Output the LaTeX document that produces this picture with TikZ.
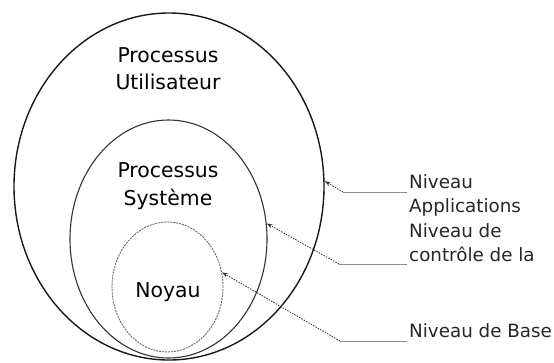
\documentclass[tikz,border=0pt]{standalone}
\usepackage{fontspec}
\setmainfont{DejaVu Sans}
\usetikzlibrary{shapes.geometric,arrows.meta}
\tikzset{
  x=1pt,y=-1pt,
  ring/.style={ellipse,inner sep=0pt,draw},
  intext/.style={inner sep=0pt,anchor=base,font=\fontsize{20.4}{24}\selectfont},
  lbl/.style={inner sep=0pt,anchor=base west,font=\fontsize{18.3}{23}\selectfont,text=black!85},
  lead/.style={draw=black!45,line width=0.9pt},
  pointer/.style={draw=black!80,line width=0.8pt,dash pattern=on 1.5pt off 1.2pt,-{Stealth[length=6pt,width=4pt]}}
}
\begin{document}
\begin{tikzpicture}
\useasboundingbox (0,0) rectangle (554,362);
% ellipses
\node[ring,line width=1.4pt,draw=black!90,minimum width=310pt,minimum height=347pt] (outer) at (169,186.5) {};
\node[ring,line width=1.1pt,draw=black!80,minimum width=197pt,minimum height=238pt] (middle) at (168.5,239) {};
\node[ring,line width=0.9pt,draw=black!60,dash pattern=on 2pt off 1pt,minimum width=111pt,minimum height=130pt] (inner) at (167.5,287) {};
% texts inside
\node[intext] (t1) at (168,62) {Processus};
\node[intext] (t2) at (168,89) {Utilisateur};
\node[intext] (t3) at (168,177) {Processus};
\node[intext] (t4) at (168,205) {Système};
\node[intext] (t5) at (168,297) {Noyau};
% labels
\node[lbl] (l1) at (409,188.5) {Niveau};
\node[lbl] (l2) at (409,212) {Applications};
\node[lbl] (l3) at (409,237.5) {Niveau de};
\node[lbl] (l4) at (409,261.5) {contrôle de la};
\node[lbl] (l5) at (409,337) {Niveau de Base};
% leader lines
\coordinate (a1) at (407,192);
\coordinate (b1) at (343,192);
\coordinate (a2) at (407,264);
\coordinate (b2) at (339,264);
\coordinate (a3) at (407,341);
\coordinate (b3) at (340,341);
\draw[lead] (a1) -- (b1);
\draw[lead] (a2) -- (b2);
\draw[lead] (a3) -- (b3);
\draw[pointer] (b1) -- (outer.2.8);
\draw[pointer] (b2) -- (middle.9.3);
\draw[pointer] (b3) -- (inner.15);
\end{tikzpicture}
\end{document}
